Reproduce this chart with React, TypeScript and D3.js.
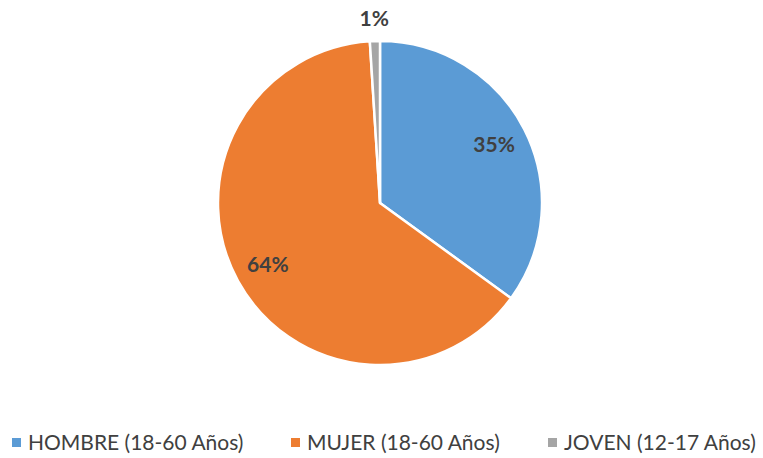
import React, { useRef, useEffect } from 'react';
import * as d3 from 'd3';

const categories = ['HOMBRE (18-60 Años)', 'MUJER (18-60 Años)', 'JOVEN (12-17 Años)'];
const values = [35, 64, 1];
const colors = ['#5B9BD5', '#ED7D31', '#A5A5A5'];
const legendX = [12, 291, 548];

const width = 763;
const height = 458;

const App = () => {
  const svgRef = useRef<SVGSVGElement>(null);

  useEffect(() => {
    const svg = d3.select(svgRef.current);
    svg.selectAll('*').remove();

    const cx = 380;
    const cy = 203;
    const radius = 162;
    const total = d3.sum(values);

    const data = categories.map((c, i) => ({ name: c, value: values[i], color: colors[i] }));

    const pie = d3.pie<any>().sort(null).value(d => d.value);
    const arcs = pie(data);

    const arc = d3.arc<any>().innerRadius(0).outerRadius(radius);

    const g = svg.append('g').attr('transform', `translate(${cx},${cy})`);

    g.selectAll('path')
      .data(arcs)
      .join('path')
      .attr('d', arc)
      .attr('fill', d => d.data.color)
      .attr('stroke', '#fff')
      .attr('stroke-width', 2.5)
      .attr('stroke-linejoin', 'round');

    const labelArc = d3.arc<any>().innerRadius(128).outerRadius(128);
    const outerArc = d3.arc<any>().innerRadius(184).outerRadius(184);

    g.selectAll('text.lbl')
      .data(arcs)
      .join('text')
      .attr('class', 'lbl')
      .attr('transform', d => {
        const pct = d.data.value / total;
        const [x, y] = pct < 0.05 ? outerArc.centroid(d) : labelArc.centroid(d);
        return `translate(${x},${y})`;
      })
      .attr('text-anchor', 'middle')
      .attr('dy', '0.35em')
      .attr('font-family', 'Lato, "Open Sans", sans-serif')
      .attr('font-weight', 'bold')
      .attr('font-size', 21)
      .attr('fill', '#404040')
      .text(d => `${Math.round((d.data.value / total) * 100)}%`);

    const legend = svg.append('g')
      .selectAll('g')
      .data(data)
      .join('g')
      .attr('transform', (d, i) => `translate(${legendX[i]},443)`);

    legend.append('rect')
      .attr('x', 0)
      .attr('y', -5)
      .attr('width', 9)
      .attr('height', 9)
      .attr('fill', d => d.color);

    legend.append('text')
      .attr('x', 16)
      .attr('y', 0)
      .attr('dy', '0.35em')
      .attr('font-family', 'Lato, "Open Sans", sans-serif')
      .attr('font-size', 21)
      .attr('fill', '#404040')
      .text(d => d.name);
  }, []);

  return (
    <div style={{ position: 'absolute', left: 0, top: 0 }}>
      <svg ref={svgRef} width={width} height={height} style={{ display: 'block', background: '#fff' }}></svg>
    </div>
  );
};

export default App;
